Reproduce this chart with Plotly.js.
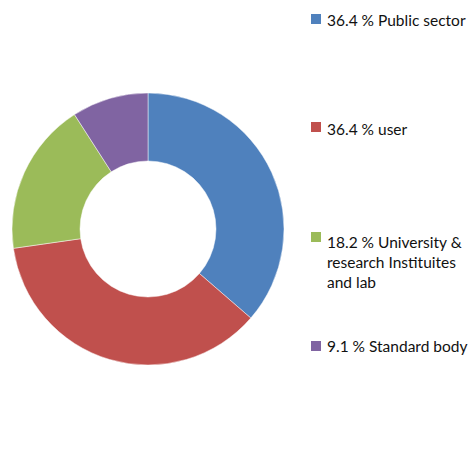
<!DOCTYPE html>
<html>
<head>
<meta charset="utf-8">
<script src="https://cdn.plot.ly/plotly-3.0.1.min.js"></script>
<style>html,body{margin:0;padding:0;background:#fff;}#chart{width:471px;height:449px;}</style>
</head>
<body>
<div id="chart"></div>
<script>
const categories = ["Public sector", "user", "University & research Instituites and lab", "Standard body"];
const values = [36.4, 36.4, 18.2, 9.1];
const legendLabels = ["36.4 % Public sector", "36.4 % user", "18.2 % University &<br>research Instituites<br>and lab", "9.1 % Standard body"];
const colors = ["#4F81BD", "#C0504D", "#9BBB59", "#8064A2"];
const legendCenterPx = [20, 129, 262, 346];

const W = 471, H = 449;
const cx = 148, cy = 229, R = 136;

const trace = {
  type: "pie",
  labels: categories,
  values: values,
  sort: false,
  direction: "clockwise",
  rotation: 0,
  hole: 0.5,
  textinfo: "none",
  hoverinfo: "label+value",
  marker: { colors: colors, line: { color: "rgba(255,255,255,0.6)", width: 0.8 } },
  domain: { x: [(cx - R) / W, (cx + R) / W], y: [1 - (cy + R) / H, 1 - (cy - R) / H] },
  showlegend: false
};

const annotations = legendLabels.map((t, i) => ({
  text: t,
  xref: "paper", yref: "paper",
  x: 325 / W, y: 1 - legendCenterPx[i] / H,
  xanchor: "left", yanchor: "middle", align: "left",
  showarrow: false,
  font: { family: "Lato, 'Noto Sans', sans-serif", size: 15.5, color: "#111111" }
}));

const squareTopPx = [14, 122, 232, 341];
const shapes = colors.map((c, i) => ({
  type: "rect", xref: "paper", yref: "paper",
  x0: 311 / W, x1: 321 / W,
  y0: 1 - squareTopPx[i] / H, y1: 1 - (squareTopPx[i] + 10) / H,
  fillcolor: c, line: { width: 0 }
}));

Plotly.newPlot("chart", [trace], {
  width: W, height: H,
  margin: { l: 0, r: 0, t: 0, b: 0 },
  paper_bgcolor: "#ffffff",
  plot_bgcolor: "#ffffff",
  showlegend: false,
  annotations: annotations,
  shapes: shapes
}, { displayModeBar: false, staticPlot: true });
</script>
</body>
</html>
